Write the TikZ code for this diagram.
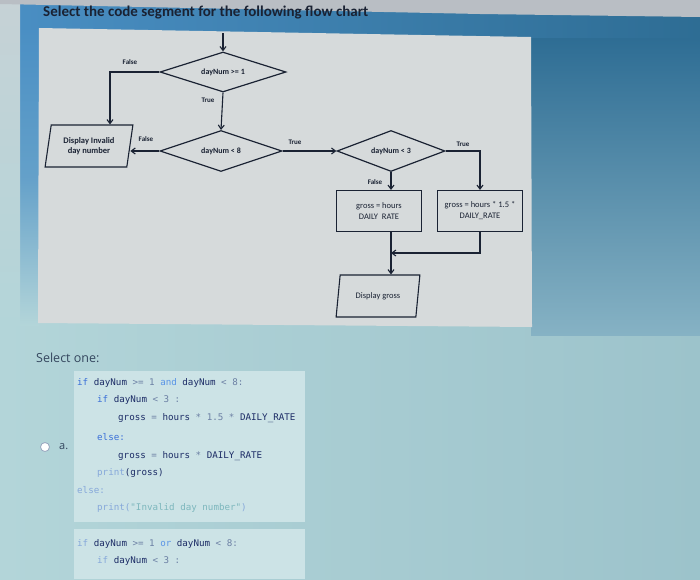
\documentclass[tikz,border=0pt]{standalone}
\usepackage{fontspec}
\setmainfont{Carlito}
\newfontfamily\uifont{Open Sans}
\newfontfamily\codefont{DejaVu Sans Mono}
\usetikzlibrary{shapes.geometric,arrows.meta,positioning}

\definecolor{ink}{HTML}{1A2233}
\definecolor{panelgrey}{HTML}{D6DADB}
\definecolor{barleft}{HTML}{4A8FC4}
\definecolor{barright}{HTML}{2E6D94}
\definecolor{rightlow}{HTML}{86B2C4}
\definecolor{lowleft}{HTML}{B3D5D9}
\definecolor{lowright}{HTML}{9CC3CB}
\definecolor{edgegrey}{HTML}{C6D2D6}
\definecolor{topgrey}{HTML}{B9BEC4}
\definecolor{codebg}{HTML}{CCE3E6}
\definecolor{kwblue}{HTML}{3A6FD8}
\definecolor{kwlight}{HTML}{5A95E6}
\definecolor{idnavy}{HTML}{1C2C66}
\definecolor{opgrey}{HTML}{6C80A4}
\definecolor{strteal}{HTML}{7DB7BD}
\definecolor{fadeblue}{HTML}{86A8DA}
\definecolor{uitext}{HTML}{34465E}

\newcommand{\ckw}[1]{\textcolor{kwblue}{#1}}
\newcommand{\ckl}[1]{\textcolor{kwlight}{#1}}
\newcommand{\cid}[1]{\textcolor{idnavy}{#1}}
\newcommand{\cop}[1]{\textcolor{opgrey}{#1}}
\newcommand{\cfd}[1]{\textcolor{fadeblue}{#1}}
\newcommand{\cstr}[1]{\textcolor{strteal}{#1}}

\begin{document}
\begin{tikzpicture}[x=1pt, y=-1pt,
    decision/.style={draw=ink, line width=1.2pt, diamond, aspect=3, inner sep=0pt,
        font=\bfseries\fontsize{8}{9}\selectfont, text=ink},
    io/.style={draw=ink, line width=1.1pt, trapezium, trapezium left angle=79,
        trapezium right angle=101, trapezium stretches=true, minimum height=42pt,
        align=center, font=\bfseries\fontsize{8.5}{10}\selectfont, text=ink},
    process/.style={draw=ink, line width=1.1pt, rectangle, minimum width=85pt,
        minimum height=41pt, align=center, font=\fontsize{8.5}{11}\selectfont, text=ink},
    lbl/.style={font=\bfseries\fontsize{7}{8}\selectfont, text=ink, inner sep=0pt},
    arrow/.style={-{Straight Barb[length=4pt,width=6pt]}, draw=ink, line width=1.1pt},
    code/.style={anchor=base west, inner sep=0pt, font=\codefont\fontsize{9.2}{10}\selectfont}
]

\useasboundingbox (0,0) rectangle (700,579);

\shade[left color=lowleft, right color=lowright] (0,0) rectangle (700,579);
\shade[left color=barleft, right color=barright] (0,0) rectangle (700,40);
\shade[top color=barright, bottom color=rightlow] (531,38) rectangle (700,335);
\shade[top color=barleft, bottom color=lowleft, middle color=barleft!75!lowleft] (20,30) rectangle (39,325);
\shade[top color=edgegrey, bottom color=lowleft] (0,0) rectangle (20,325);
\fill[topgrey] (0,0) -- (700,0) -- (700,17) -- (480,14) -- (0,4) -- cycle;
\fill[panelgrey] (39,28) -- (531,37) -- (532,327) -- (38,323) -- cycle;

\node[anchor=west, inner sep=0pt, font=\bfseries\fontsize{15}{17}\selectfont, text=ink] (title) at (43,13)
    {Select the code segment for the following flow chart};

\node[decision, minimum width=126pt, minimum height=40pt] (chk1) at (223,72) {dayNum >= 1};
\node[decision, minimum width=122pt, minimum height=41pt] (chk8) at (221,151) {dayNum < 8};
\node[decision, minimum width=108pt, minimum height=41pt] (chk3) at (391,151) {dayNum < 3};
\node[io, minimum width=88pt] (badday) at (89,146) {Display Invalid\\day number};
\node[process] (payreg) at (379,211) {gross = hours\\DAILY\ \ RATE};
\node[process] (payot) at (480,211) {gross = hours * 1.5 *\\DAILY\_RATE};
\node[io, minimum width=84pt, font=\fontsize{8.5}{10}\selectfont] (showpay) at (378,296) {Display gross};

\node[lbl] (f1) at (130,62) {False};
\node[lbl] (t1) at (208,100) {True};
\node[lbl] (f8) at (146,139) {False};
\node[lbl] (t8) at (295,142) {True};
\node[lbl] (t3) at (463,144) {True};
\node[lbl] (f3) at (375,182) {False};

\coordinate (entry) at (223,33);
\coordinate (join) at (391,253);

\draw[arrow] (entry) -- (chk1);
\draw[arrow] (chk1.west) -| ([xshift=21pt]badday.north);
\draw[arrow] (chk1.south) -- (chk8.north);
\draw[arrow] (chk8.west) -- (chk8.west -| badday.east);
\draw[arrow] (chk8.east) -- (chk3.west);
\draw[arrow] (chk3.east) -| (payot.north);
\draw[arrow] (chk3.south) -- (chk3.south |- payreg.north);
\draw[arrow] (chk3.south |- payreg.south) -- (chk3.south |- showpay.north);
\draw[arrow] (payot.south) |- (join);

\node[anchor=west, inner sep=0pt, font=\uifont\fontsize{12.5}{14}\selectfont, text=uitext] (pick) at (36,358) {Select one:};

\fill[codebg] (74,371) rectangle (305,522);
\fill[codebg] (74,529) rectangle (305,579);

\draw[fill=white, draw=opgrey!70, line width=0.8pt] (45,447) circle (4.5);
\node[anchor=west, inner sep=0pt, font=\uifont\fontsize{11}{12}\selectfont, text=uitext] (opta) at (59,447) {a.};

\node[code] (c1) at (77,385) {\ckw{if} \cid{dayNum} \cop{>= 1} \ckl{and} \cid{dayNum} \cop{< 8:}};
\node[code] (c2) at (97,402) {\ckw{if} \cid{dayNum} \cop{< 3 :}};
\node[code] (c3) at (118,420) {\cid{gross} \cop{=} \cid{hours} \cop{* 1.5 *} \cid{DAILY\_RATE}};
\node[code] (c4) at (97,440) {\ckw{else:}};
\node[code] (c5) at (118,458) {\cid{gross} \cop{=} \cid{hours} \cop{*} \cid{DAILY\_RATE}};
\node[code] (c6) at (97,475) {\cfd{print}\cid{(gross)}};
\node[code] (c7) at (77,493) {\cfd{else:}};
\node[code] (c8) at (97,510) {\cfd{print(}\cstr{"Invalid day number"}\cfd{)}};
\node[code] (c9) at (77,546) {\cfd{if} \cid{dayNum} \cop{>= 1} \ckl{or} \cid{dayNum} \cop{< 8:}};
\node[code] (c10) at (97,563) {\cfd{if} \cid{dayNum} \cop{< 3 :}};

\end{tikzpicture}
\end{document}
